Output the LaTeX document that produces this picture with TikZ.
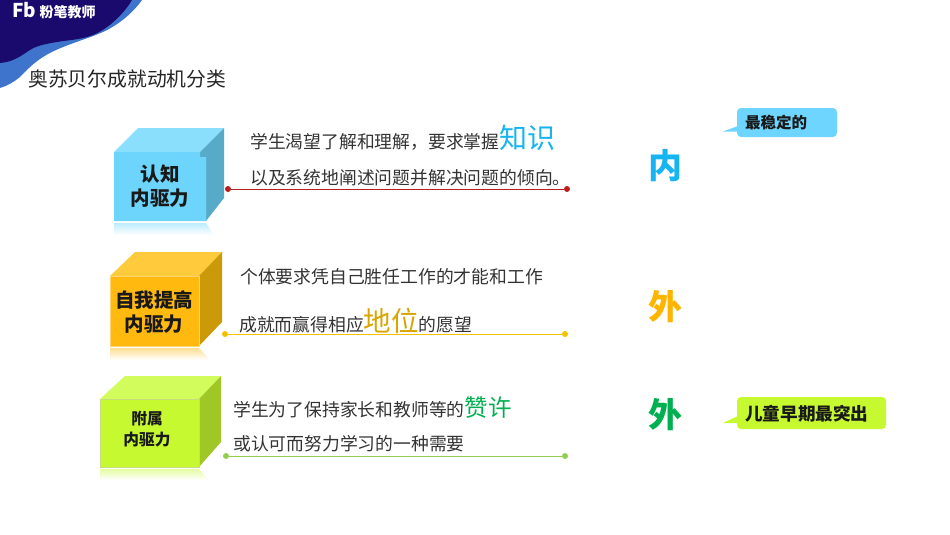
\documentclass[tikz,border=0pt]{standalone}
\usepackage{fontspec}
\setmainfont{Noto Sans CJK SC}
\usetikzlibrary{positioning}
\definecolor{navyband}{HTML}{1B0A6E}
\definecolor{blueband}{HTML}{3F74CC}
\definecolor{cyanface}{HTML}{6DD5FB}
\definecolor{cyantop}{HTML}{8ADFFC}
\definecolor{cyanside}{HTML}{57ABC9}
\definecolor{amberface}{HTML}{FFB90F}
\definecolor{ambertop}{HTML}{FFCB3D}
\definecolor{amberside}{HTML}{CC9A08}
\definecolor{limeface}{HTML}{C6F92F}
\definecolor{limetop}{HTML}{D2FB5C}
\definecolor{limeside}{HTML}{9FC726}
\definecolor{wordcyan}{HTML}{16B4F0}
\definecolor{wordamber}{HTML}{D9A400}
\definecolor{wordamberbig}{HTML}{FFB400}
\definecolor{wordgreen}{HTML}{00B050}
\definecolor{tagcyan}{HTML}{6DD5FF}
\definecolor{linered}{HTML}{B82020}
\definecolor{lineamber}{HTML}{F2C200}
\definecolor{linegreen}{HTML}{92CF50}
\tikzset{
  body/.style={inner sep=0pt,anchor=base west,font=\fontsize{17.8}{20}\selectfont,text=black!80},
  boxlabel/.style={inner sep=0pt,align=center,font=\fontsize{#1}{24}\selectfont\bfseries,text=black!90},
  biglabel/.style={inner sep=0pt,font=\fontsize{34}{36}\selectfont\bfseries},
  taglabel/.style={inner sep=0pt,anchor=west,font=\fontsize{15.5}{18}\selectfont\bfseries,text=black!90},
  dot/.style={circle,inner sep=0pt,minimum size=6pt,fill=#1},
  rulestroke/.style={line width=.9pt},
}
\newcommand{\bigword}[2]{{\fontsize{28}{28}\selectfont\color{#1}#2}}
\begin{document}
\begin{tikzpicture}[x=1pt,y=-1pt]
\useasboundingbox (0,0) rectangle (950,535);
% corner wave
\fill[blueband] (0,0) -- (142,0) .. controls (132,14) and (118,25) .. (103,32) .. controls (85,40) and (60,46) .. (43,57) .. controls (32,64) and (25,72) .. (20,77) .. controls (14,82) and (7,86) .. (0,88) -- cycle;
\fill[navyband] (0,0) -- (132,0) .. controls (125,12) and (110,28) .. (93,35) .. controls (80,40) and (68,40) .. (57,42) .. controls (45,44) and (36,46) .. (30,50) .. controls (22,55) and (14,62) .. (0,63) -- cycle;
\node[inner sep=0pt,text=white,font=\fontsize{14}{15}\selectfont\bfseries] (logo) at (54,11) {{\fontsize{19}{15}\selectfont Fb} 粉笔教师};
\node[inner sep=0pt,anchor=base west,font=\fontsize{19.8}{22}\selectfont,text=black!85] (title) at (28,86) {奥苏贝尔成就动机分类};

% first box
\shade[top color=cyanface!45,bottom color=white] (114,223) -- (206,223) -- (214,235) -- (114,235) -- cycle;
\fill[cyantop] (114,152) -- (138,128) -- (224,128) -- (200,152) -- cycle;
\fill[cyanside] (200,152) -- (224,128) -- (224,198) -- (206,221) -- (206,157) -- (200,157) -- cycle;
\fill[cyanface] (114,152) -- (200,152) -- (200,157) -- (206,157) -- (206,221) -- (114,221) -- cycle;
\node[boxlabel=19.5] (box1) at (160,186) {认知\\内驱力};

% second box
\shade[top color=amberface!45,bottom color=white] (110,348) -- (199,348) -- (210,360) -- (110,360) -- cycle;
\fill[ambertop] (110,276) -- (135,252) -- (222,252) -- (199,276) -- cycle;
\fill[amberside] (199,276) -- (222,252) -- (222,322) -- (199,346) -- cycle;
\fill[amberface,draw=amberface!60!white,line width=.8pt] (110,276) rectangle (199,346);
\node[boxlabel=19.5] (box2) at (154,312) {自我提高\\内驱力};

% third box
\shade[top color=limeface!45,bottom color=white] (100,469) -- (199,469) -- (208,480) -- (100,480) -- cycle;
\fill[limetop] (100,399) -- (125,376) -- (221,376) -- (199,399) -- cycle;
\fill[limeside] (199,399) -- (221,376) -- (221,442) -- (199,467) -- cycle;
\fill[limeface,draw=limeside!60!white,line width=.8pt] (100,399) rectangle (199,467);
\node[boxlabel=15.7] (box3) at (147,429) {附属\\[-3pt]内驱力};

% texts
\node[body] (text1a) at (250,148) {学生渴望了解和理解，要求掌握\bigword{wordcyan}{知识}};
\node[body] (text1b) at (250,184) {以及系统地阐述问题并解决问题的倾向。};
\node[body] (text2a) at (240,283) {个体要求凭自己胜任工作的才能和工作};
\node[body] (text2b) at (239,331) {成就而赢得相应{\fontsize{27.5}{28}\selectfont\color{wordamber}地位}的愿望};
\node[body] (text3a) at (233,416) {学生为了保持家长和教师等的{\fontsize{23.5}{24}\selectfont\color{wordgreen}赞许}};
\node[body] (text3b) at (233,450) {或认可而努力学习的一种需要};

% rules
\node[dot=linered] (a1) at (228,189) {};
\node[dot=linered] (b1) at (567,189) {};
\node[dot=lineamber] (a2) at (225,334) {};
\node[dot=lineamber] (b2) at (565,334) {};
\node[dot=linegreen] (a3) at (226,456) {};
\node[dot=linegreen] (b3) at (565,456) {};
\draw[rulestroke,linered] (a1) -- (b1);
\draw[rulestroke,lineamber] (a2) -- (b2);
\draw[rulestroke,linegreen] (a3) -- (b3);

\node[biglabel,text=wordcyan] (nei) at (665,166) {内};
\node[biglabel,text=wordamberbig] (wai1) at (665,307) {外};
\node[biglabel,text=wordgreen] (wai2) at (665,415) {外};

% tags
\fill[tagcyan,rounded corners=4pt] (737,108) -- (837,108) -- (837,137) -- (737,137) -- cycle;
\fill[tagcyan] (723,131.5) -- (738,126) -- (738,131.5) -- cycle;
\node[taglabel] (tag1) at (745,122.5) {最稳定的};
\fill[limeface,rounded corners=4pt] (737,397) -- (886,397) -- (886,429) -- (737,429) -- cycle;
\fill[limeface] (723,423) -- (738,416) -- (738,423) -- cycle;
\node[taglabel,font=\fontsize{17.6}{20}\selectfont\bfseries] (tag2) at (745,414) {儿童早期最突出};
\end{tikzpicture}
\end{document}
